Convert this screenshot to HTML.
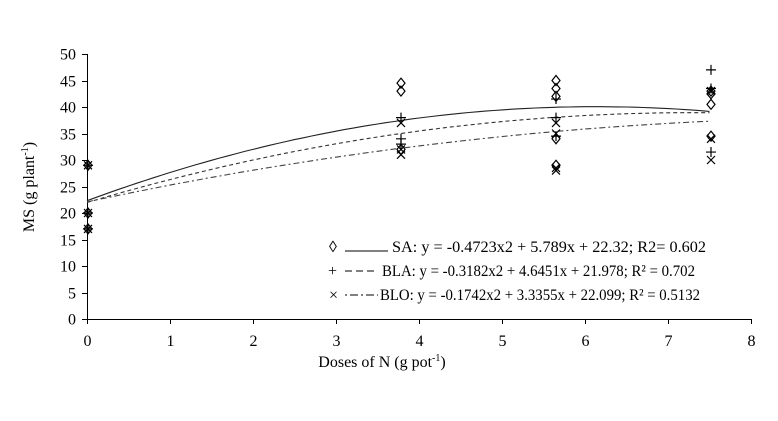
<!DOCTYPE html>
<html><head><meta charset="utf-8"><style>
html,body{margin:0;padding:0;background:#fff;width:778px;height:421px;overflow:hidden}
svg{display:block;font-family:"Liberation Serif",serif}
</style></head><body>
<svg id="s" width="778" height="421" viewBox="0 0 778 421" xmlns="http://www.w3.org/2000/svg">
<g stroke="#000" stroke-width="1" fill="none">
<line x1="87.5" y1="54" x2="87.5" y2="319.5"/>
<line x1="87" y1="319.5" x2="751" y2="319.5"/>
</g>
<g id="ticks" stroke="#000" stroke-width="1"></g>
<g id="lab" font-size="16" fill="#000"></g>
<g id="curves" fill="none" stroke-width="1.1"></g>
<g id="pts" stroke="#000" fill="none" stroke-width="1.2"></g>
<text x="382" y="367" font-size="16" text-anchor="middle">Doses of N (g pot<tspan dy="-6" font-size="10">-1</tspan><tspan dy="6">)</tspan></text>
<text transform="translate(34,187) rotate(-90)" font-size="16" text-anchor="middle">MS (g plant<tspan dy="-6" font-size="10">-1</tspan><tspan dy="6">)</tspan></text>
<g font-size="16">
<text x="329" y="252">◊</text>
<line x1="345" y1="251" x2="388" y2="251" stroke="#000"/>
<text x="392" y="252" textLength="314" lengthAdjust="spacingAndGlyphs">SA: y = -0.4723x2 + 5.789x + 22.32; R2= 0.602</text>
<text x="328" y="276">+</text>
<line x1="345" y1="271" x2="376" y2="271" stroke="#000" stroke-dasharray="7,4"/>
<text x="382" y="276" textLength="313" lengthAdjust="spacingAndGlyphs">BLA: y = -0.3182x2 + 4.6451x + 21.978; R² = 0.702</text>
<text x="329" y="300">×</text>
<line x1="345" y1="295" x2="378" y2="295" stroke="#000" stroke-dasharray="2,3,8,3"/>
<text x="380" y="300" textLength="320" lengthAdjust="spacingAndGlyphs">BLO: y = -0.1742x2 + 3.3355x + 22.099; R² = 0.5132</text>
</g>
</svg>
<script>
var NS="http://www.w3.org/2000/svg";
function X(v){return 87+v*83;} function Y(v){return 319-v*5.3;}
function el(p,t,a,txt){var e=document.createElementNS(NS,t);for(var k in a)e.setAttribute(k,a[k]);if(txt!=null)e.textContent=txt;document.getElementById(p).appendChild(e);return e;}
for(var i=0;i<=10;i++){var y=Math.round(Y(i*5))+0.5;el("ticks","line",{x1:82,y1:y,x2:87,y2:y});el("lab","text",{x:76,y:y+5,"text-anchor":"end"},i*5);}
for(var i=0;i<=8;i++){var x=Math.round(X(i))+0.5;el("ticks","line",{x1:x,y1:319,x2:x,y2:324});el("lab","text",{x:x,y:346,"text-anchor":"middle"},i);}
var cs=[[-0.4723,5.789,22.32,"none","#222"],[-0.3182,4.6451,21.978,"4,3","#333"],[-0.1742,3.3355,22.099,"6,3,2,3","#444"]];
cs.forEach(function(c){var d="";for(var t=0;t<=7.5001;t+=0.1){d+=(t?"L":"M")+X(t).toFixed(1)+","+Y(c[0]*t*t+c[1]*t+c[2]).toFixed(1);}el("curves","path",{d:d,stroke:c[4],"stroke-dasharray":c[3]});});
function dia(x,y){el("pts","path",{d:"M"+x+","+(y-5)+"L"+(x+4)+","+y+"L"+x+","+(y+5)+"L"+(x-4)+","+y+"Z"});}
function plus(x,y){el("pts","path",{d:"M"+(x-5)+","+y+"H"+(x+5)+"M"+x+","+(y-5)+"V"+(y+5)});}
function cross(x,y){el("pts","path",{d:"M"+(x-4)+","+(y-4)+"L"+(x+4)+","+(y+4)+"M"+(x+4)+","+(y-4)+"L"+(x-4)+","+(y+4)});}
var cols=[[401,[44.5,43,32],[38,34,33],[37,32,31]],[556,[45,43.5,42,34,29],[41.5,38,34.5],[37,35,28.5,28]],[711,[43,42.5,40.5,34.5],[47,43.5,31.5],[43,34,30]]];
cols.forEach(function(c){c[1].forEach(function(v){dia(c[0],Y(v));});c[2].forEach(function(v){plus(c[0],Y(v));});c[3].forEach(function(v){cross(c[0],Y(v));});});
[29,20,17].forEach(function(v){var y=Y(v);dia(88,y);plus(88,y);cross(88,y);});
</script>
</body></html>
